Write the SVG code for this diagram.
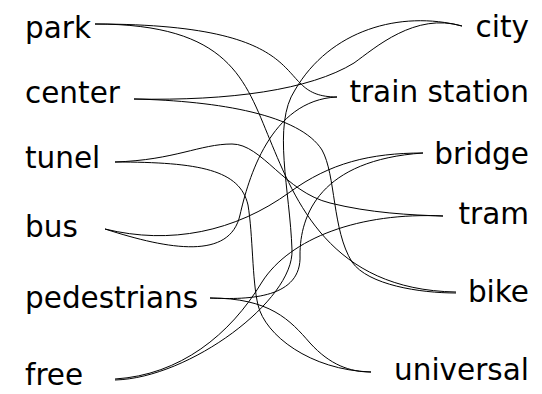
<svg xmlns="http://www.w3.org/2000/svg" width="542" height="394" viewBox="0 0 542 394">
<style>
.lbl{font-family:"DejaVu Sans",sans-serif;font-size:29.5px;fill:#000}
.r{text-anchor:end}
.c path{fill:none;stroke:#000;stroke-width:1}
</style>
<rect width="542" height="394" fill="#fff"/>
<g id="connectors" class="c">
<path d="M95,24 C330,24 267,97 337,97"/>
<path d="M95,24 C230,24 245,80 270,140 C295,200 330,290 456,292"/>
<path d="M134,99 C230,101 310,90 354,63 C375,48 415,12 462,26"/>
<path d="M134,99 C220,101 300,115 322,150 C336,175 332,230 352,262 C368,285 420,293 456,293"/>
<path d="M462,26 C400,10 330,30 295,90 C272,125 290,190 292,250 C294,300 190,378 115,380"/>
<path d="M115,162 C175,160 200,144 232,144 C262,144 285,192 330,203 C370,213 410,215 443,216"/>
<path d="M115,162 C200,162 240,170 248,205 C253,235 252,280 258,305 C265,335 310,370 371,372"/>
<path d="M105,229 C170,250 230,260 240,215 C248,180 270,100 337,97"/>
<path d="M105,229 C170,245 235,232 290,192 C330,163 370,153 423,153"/>
<path d="M210,298 C250,300 302,298 300,255 C300,215 320,160 423,153"/>
<path d="M210,298 C270,298 290,320 310,343 C330,365 350,372 371,372"/>
<path d="M115,379 C180,375 230,335 262,282 C290,238 360,212 443,216"/>
</g>
<g id="park"><text class="lbl" x="25" y="38">park</text></g>
<g id="center"><text class="lbl" x="25" y="103">center</text></g>
<g id="tunel"><text class="lbl" x="25" y="168">tunel</text></g>
<g id="bus"><text class="lbl" x="25" y="237">bus</text></g>
<g id="pedestrians"><text class="lbl" x="25" y="308">pedestrians</text></g>
<g id="free"><text class="lbl" x="25" y="385">free</text></g>
<g id="city"><text class="lbl r" x="529" y="37">city</text></g>
<g id="train-station"><text class="lbl r" x="529" y="102">train station</text></g>
<g id="bridge"><text class="lbl r" x="529" y="164">bridge</text></g>
<g id="tram"><text class="lbl r" x="529" y="224">tram</text></g>
<g id="bike"><text class="lbl r" x="529" y="302">bike</text></g>
<g id="universal"><text class="lbl r" x="529" y="380">universal</text></g>
</svg>
